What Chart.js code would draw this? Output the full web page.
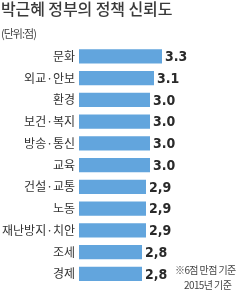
<!DOCTYPE html>
<html><head><meta charset="utf-8">
<script src="https://cdn.jsdelivr.net/npm/chart.js@4/dist/chart.umd.min.js"></script>
<style>
html,body{margin:0;padding:0;background:#fff;}
#wrap{position:relative;width:248px;height:296px;overflow:hidden;}
#c{position:absolute;left:0;top:0;}
.t{position:absolute;font-family:"Noto Sans CJK KR";white-space:nowrap;}
#title{left:1px;top:-4px;font-size:16px;font-weight:500;color:#3a3a3a;letter-spacing:-0.1px;}
#unit{left:1px;top:25px;font-size:11px;color:#444;letter-spacing:-1px;}
#note1{left:175px;top:262px;font-size:10px;color:#444;letter-spacing:-0.6px;}
#note2{left:184px;top:277px;font-size:10px;color:#444;letter-spacing:-0.6px;}
</style></head>
<body><div id="wrap">
<canvas id="c" width="248" height="296"></canvas>
<div class="t" id="title">박근혜 정부의 정책 신뢰도</div>
<div class="t" id="unit">(단위:점)</div>
<div class="t" id="note1">※6점 만점 기준</div>
<div class="t" id="note2">2015년 기준</div>
</div>
<script>
const categories = ['문화','외교·안보','환경','보건·복지','방송·통신','교육','건설·교통','노동','재난방지·치안','조세','경제'];
const values = [3.3, 3.1, 3.0, 3.0, 3.0, 3.0, 2.9, 2.9, 2.9, 2.8, 2.8];
const valueLabels = ['3.3','3.1','3.0','3.0','3.0','3.0','2,9','2,9','2,9','2,8','2,8'];

const valuePlugin = {
  id: 'valueLabels',
  afterDatasetsDraw(chart) {
    const ctx = chart.ctx;
    const meta = chart.getDatasetMeta(0);
    ctx.save();
    ctx.font = 'bold 14px "Liberation Sans Narrow", "DejaVu Sans Condensed"';
    ctx.fillStyle = '#2a2a2a';
    ctx.textBaseline = 'middle';
    ctx.textAlign = 'left';
    meta.data.forEach((bar, i) => {
      ctx.fillText(valueLabels[i], bar.x + 3, bar.y + 1);
    });
    ctx.restore();
  }
};

new Chart(document.getElementById('c'), {
  type: 'bar',
  data: {
    labels: categories,
    datasets: [{
      data: values,
      backgroundColor: '#62a5dd',
      borderWidth: 0,
      barPercentage: 0.66,
      categoryPercentage: 1
    }]
  },
  options: {
    indexAxis: 'y',
    responsive: false,
    animation: false,
    devicePixelRatio: 1,
    layout: { padding: { top: 45.5, bottom: 8, left: 0, right: 57 } },
    plugins: { legend: { display: false }, tooltip: { enabled: false }, title: { display: false } },
    scales: {
      x: { display: false, min: 1.225, max: 4.025 },
      y: {
        afterFit(s) { s.width = 79; },
        grid: { display: false, drawTicks: false },
        border: { display: false },
        ticks: {
          padding: 4,
          color: '#333',
          font: { family: '"Noto Sans CJK KR"', size: 12 }
        }
      }
    }
  },
  plugins: [valuePlugin]
});
</script>
</body></html>
